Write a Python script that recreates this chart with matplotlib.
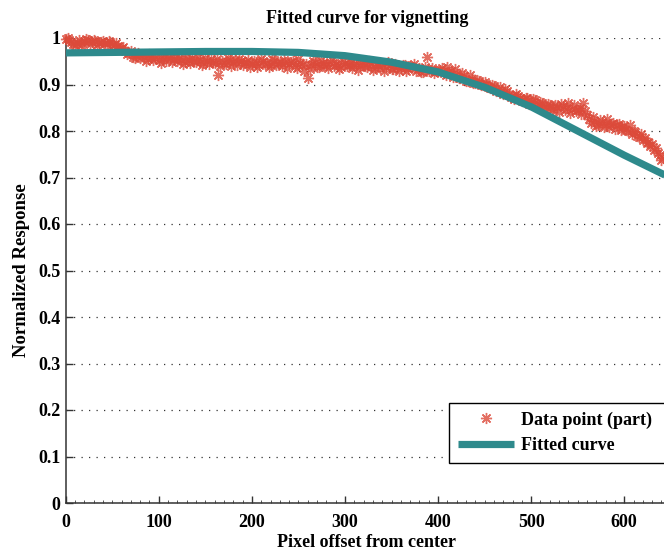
import numpy as np
import matplotlib
matplotlib.use('Agg')
import matplotlib.pyplot as plt
from matplotlib.ticker import MultipleLocator

# Dati: campioni misurati (parte), due griglie sfalsate, e curva stimata
offset_a = np.arange(0, 644, 4)
response_a = [
    0.998, 0.995, 0.987, 0.990, 0.985, 0.993, 0.996, 0.991, 0.994, 0.989,
    0.993, 0.988, 0.991, 0.986, 0.982, 0.978, 0.972, 0.968, 0.960, 0.963,
    0.958, 0.962, 0.955, 0.960, 0.957, 0.953, 0.956, 0.951, 0.958, 0.954,
    0.950, 0.955, 0.948, 0.953, 0.957, 0.949, 0.952, 0.946, 0.951, 0.955,
    0.947, 0.921, 0.950, 0.944, 0.953, 0.948, 0.942, 0.950, 0.946, 0.952,
    0.945, 0.949, 0.941, 0.951, 0.947, 0.943, 0.952, 0.946, 0.940, 0.948,
    0.944, 0.950, 0.936, 0.947, 0.930, 0.914, 0.942, 0.948, 0.938, 0.946,
    0.943, 0.949, 0.940, 0.945, 0.938, 0.947, 0.942, 0.936, 0.944, 0.940,
    0.946, 0.938, 0.943, 0.935, 0.941, 0.945, 0.937, 0.942, 0.934, 0.940,
    0.936, 0.941, 0.933, 0.938, 0.930, 0.935, 0.927, 0.959, 0.931, 0.924,
    0.928, 0.935, 0.921, 0.926, 0.917, 0.922, 0.913, 0.918, 0.908, 0.912,
    0.904, 0.908, 0.899, 0.902, 0.893, 0.897, 0.888, 0.884, 0.890, 0.878,
    0.875, 0.880, 0.871, 0.866, 0.872, 0.861, 0.866, 0.856, 0.860, 0.852,
    0.855, 0.848, 0.852, 0.858, 0.845, 0.860, 0.848, 0.842, 0.850, 0.861,
    0.835, 0.818, 0.822, 0.813, 0.820, 0.815, 0.808, 0.818, 0.812, 0.803,
    0.810, 0.799, 0.793, 0.797, 0.787, 0.780, 0.774, 0.768, 0.760, 0.752,
    0.738,
]
offset_b = np.arange(2, 646, 4)
response_b = [
    1.000, 0.992, 0.984, 0.996, 0.990, 0.997, 0.988, 0.995, 0.986, 0.992,
    0.990, 0.994, 0.985, 0.989, 0.976, 0.981, 0.966, 0.972, 0.957, 0.968,
    0.963, 0.951, 0.966, 0.952, 0.962, 0.947, 0.959, 0.963, 0.949, 0.960,
    0.958, 0.944, 0.962, 0.947, 0.951, 0.959, 0.943, 0.956, 0.945, 0.949,
    0.954, 0.940, 0.946, 0.957, 0.939, 0.952, 0.955, 0.941, 0.949, 0.938,
    0.951, 0.937, 0.954, 0.944, 0.938, 0.955, 0.941, 0.949, 0.953, 0.935,
    0.948, 0.939, 0.955, 0.941, 0.944, 0.933, 0.950, 0.937, 0.952, 0.941,
    0.936, 0.952, 0.944, 0.933, 0.950, 0.939, 0.948, 0.944, 0.932, 0.948,
    0.940, 0.950, 0.931, 0.946, 0.936, 0.929, 0.948, 0.933, 0.944, 0.930,
    0.943, 0.929, 0.940, 0.945, 0.934, 0.926, 0.938, 0.930, 0.935, 0.929,
    0.932, 0.924, 0.938, 0.929, 0.933, 0.914, 0.924, 0.908, 0.921, 0.903,
    0.910, 0.898, 0.906, 0.895, 0.899, 0.886, 0.894, 0.880, 0.885, 0.874,
    0.869, 0.876, 0.864, 0.870, 0.858, 0.868, 0.853, 0.863, 0.849, 0.857,
    0.846, 0.856, 0.840, 0.853, 0.850, 0.838, 0.855, 0.846, 0.836, 0.844,
    0.826, 0.830, 0.811, 0.823, 0.809, 0.825, 0.816, 0.805, 0.814, 0.808,
    0.803, 0.812, 0.800, 0.790, 0.794, 0.785, 0.777, 0.771, 0.763, 0.748,
    0.742,
]

fit_x = [0, 50, 100, 150, 200, 250, 300, 350, 400, 450, 500, 550, 600, 647]
fit_y = [0.968, 0.969, 0.970, 0.971, 0.971, 0.969, 0.962, 0.948, 0.927,
         0.894, 0.852, 0.800, 0.748, 0.702]

y_ticks = [0, 0.1, 0.2, 0.3, 0.4, 0.5, 0.6, 0.7, 0.8, 0.9, 1]
y_ticklabels = ['0', '0.1', '0.2', '0.3', '0.4', '0.5', '0.6', '0.7',
                '0.8', '0.9', '1']

plt.rcParams['font.family'] = ['Liberation Serif', 'DejaVu Serif']
plt.rcParams['font.weight'] = 'bold'

fig = plt.figure(figsize=(6.64, 5.51), dpi=100)
W, H = 664, 551
ax = fig.add_axes([65.7 / W, 48 / H, 602.3 / W, 465 / H])

x_all = np.concatenate([offset_a, offset_b])
y_all = np.concatenate([response_a, response_b])
ax.plot(x_all, y_all, linestyle='none', marker=(8, 2, 0), markersize=8,
        markeredgewidth=1.0, color='#dc4a3a', alpha=0.8, clip_on=False,
        label='Data point (part)', zorder=3)
ax.plot(fit_x, fit_y, color='#2e8a8c', linewidth=5.2, solid_capstyle='butt',
        label='Fitted curve', zorder=4)

ax.set_xlim(0, 647)
ax.set_ylim(0, 1)
ax.xaxis.set_major_locator(MultipleLocator(100))
ax.xaxis.set_minor_locator(MultipleLocator(10))
ax.set_yticks(y_ticks)
ax.set_yticklabels(y_ticklabels)

ax.tick_params(axis='both', which='major', direction='in', length=5, width=1,
               color='#333333', labelsize=13)
ax.tick_params(axis='x', which='major', pad=8)
ax.tick_params(axis='y', which='major', pad=4)
ax.tick_params(axis='x', which='minor', direction='in', length=2, width=0.7,
               color='#555555')
for lab in ax.get_xticklabels() + ax.get_yticklabels():
    lab.set_fontweight('bold')

ax.yaxis.grid(True, linestyle=(0, (1, 5)), linewidth=0.9, color='#333333')
ax.set_axisbelow(True)

for s in ['top', 'right']:
    ax.spines[s].set_visible(False)
for s in ['left', 'bottom']:
    ax.spines[s].set_color('#333333')
    ax.spines[s].set_linewidth(1.1)

ax.set_title('Fitted curve for vignetting', fontsize=13, fontweight='bold', pad=11)
ax.set_xlabel('Pixel offset from center', fontsize=13, fontweight='bold', labelpad=2)
ax.set_ylabel('Normalized Response', fontsize=13.5, fontweight='bold', labelpad=6)

leg = ax.legend(loc='lower left', bbox_to_anchor=(0.636, 0.086, 0.40, 0.13),
                mode='expand', borderaxespad=0, fancybox=False, framealpha=1,
                edgecolor='black', handlelength=3.1, handletextpad=0.4,
                labelspacing=0.45, borderpad=0.5,
                prop={'size': 13, 'weight': 'bold'})
leg.get_frame().set_linewidth(1.0)

fig.savefig('out.png', dpi=100)
